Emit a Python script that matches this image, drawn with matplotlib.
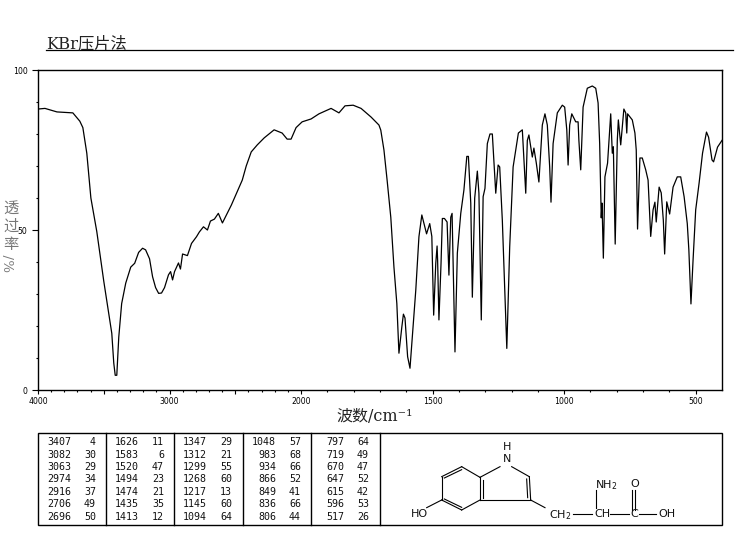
#importing the relevant modules
import matplotlib
matplotlib.use("Agg")
import matplotlib.pyplot as plt
import numpy as np

#spectrum
wavenumber = [4000, 3947, 3856, 3735, 3682, 3659, 3629, 3598, 3553, 3508, 3500, 3470, 3439, 3424, 3413, 3401,
              3386, 3364, 3333, 3295, 3265, 3235, 3205, 3182, 3152, 3129, 3106, 3083, 3061, 3038, 3008, 2992,
              2977, 2962, 2932, 2917, 2901, 2864, 2833, 2795, 2773, 2742, 2712, 2689, 2659, 2629, 2598, 2568,
              2530, 2485, 2447, 2417, 2379, 2333, 2280, 2205, 2144, 2106, 2076, 2038, 1996, 1962, 1932, 1886,
              1856, 1833, 1802, 1772, 1734, 1704, 1697, 1685, 1673, 1659, 1647, 1636, 1628, 1617, 1611, 1605,
              1595, 1586, 1577, 1564, 1552, 1541, 1533, 1523, 1511, 1503, 1496, 1488, 1483, 1481, 1476, 1468,
              1463, 1455, 1445, 1438, 1431, 1426, 1415, 1406, 1393, 1381, 1370, 1364, 1355, 1349, 1340, 1330,
              1324, 1315, 1308, 1301, 1292, 1282, 1273, 1260, 1251, 1245, 1235, 1218, 1207, 1194, 1174, 1159,
              1146, 1140, 1134, 1121, 1115, 1106, 1096, 1083, 1073, 1064, 1055, 1050, 1042, 1026, 1007, 998,
              990, 985, 979, 971, 956, 947, 944, 937, 928, 912, 893, 880, 871, 865, 859, 856,
              851, 845, 835, 823, 817, 813, 806, 798, 794, 785, 773, 766, 762, 759, 741, 731,
              726, 721, 712, 703, 690, 681, 671, 662, 655, 650, 639, 631, 623, 618, 610, 599,
              586, 570, 557, 544, 532, 526, 518, 510, 500, 487, 474, 459, 451, 438, 432, 417,
              404, 400]
transmittance = [87.8, 88, 86.9, 86.6, 84, 82, 74, 60, 49.5, 36.5, 34, 26, 17.7, 8.4, 4.6, 4.6,
                 16.5, 27, 33.4, 38.4, 39.6, 43, 44.3, 43.8, 41, 35.4, 32, 30.2, 30.3, 32, 36, 37,
                 34.4, 37, 39.7, 37.8, 42.5, 42, 45.8, 47.9, 49.4, 51, 50, 52.8, 53.4, 55.2, 52.2, 54.7,
                 57.8, 62, 65.6, 70, 74.4, 76.6, 78.8, 81.3, 80.3, 78.4, 78.4, 82, 83.8, 84.7, 86.3, 88,
                 86.6, 88.8, 89, 88, 85.3, 82.8, 81.2, 75, 65.6, 54, 38.4, 27, 11.5, 19.7, 23.7, 22.5,
                 10.4, 6.8, 16.6, 31.2, 47.9, 54.7, 52.1, 48.8, 52, 48, 23.4, 39.6, 45, 40.6, 21.9, 39.6,
                 53.6, 53.6, 52.5, 35.9, 54, 55.2, 11.9, 42.8, 55.2, 62.5, 73, 73, 58.4, 29, 60, 68.4,
                 61.5, 21.9, 60.4, 63, 77, 80, 80, 61.5, 70.3, 69.7, 53, 13, 44.7, 69.7, 80.3, 81.3,
                 61.5, 78, 79.7, 72.8, 75.6, 71, 65, 82.8, 86.3, 82.8, 69.7, 58.7, 77, 86.6, 89, 88.4,
                 81.3, 70.3, 82.8, 86.3, 83.8, 83.8, 78, 68.8, 88.4, 94.3, 95, 94.3, 89.7, 77, 53.8, 58.4,
                 41.2, 66.6, 70.9, 86.3, 74, 76, 45.6, 78, 84.4, 76.6, 87.8, 86.6, 80.3, 86.3, 84.4, 80.3,
                 75, 50.3, 72.5, 72.5, 68.8, 65.6, 48, 56.3, 58.7, 52.5, 63.4, 61.6, 53, 42.5, 58.8, 55,
                 63.4, 66.6, 66.6, 60.4, 52, 43.8, 26.9, 40.6, 56.3, 64.7, 74, 80.6, 79, 71.9, 71.3, 75.9,
                 77.5, 78]

#peak table, one list per column
peak_wn = [[3407, 3082, 3063, 2974, 2916, 2706, 2696],
           [1626, 1583, 1520, 1494, 1474, 1435, 1413],
           [1347, 1312, 1299, 1268, 1217, 1145, 1094],
           [1048, 983, 934, 866, 849, 836, 806],
           [797, 719, 670, 647, 615, 596, 517]]
peak_t = [[4, 30, 29, 34, 37, 49, 50],
          [11, 6, 47, 23, 21, 35, 12],
          [29, 21, 55, 60, 13, 60, 64],
          [57, 68, 66, 52, 41, 66, 44],
          [64, 49, 47, 52, 42, 53, 26]]

x_labels = [4000, 3000, 2000, 1500, 1000, 500]
y_labels = [0, 50, 100]

plt.rcParams['font.family'] = ['DejaVu Sans', 'Noto Sans CJK SC']

W, H = 737, 539
fig = plt.figure(figsize=(W / 100, H / 100), dpi=100)

#the wavenumber axis is compressed by half above 2000
def forward(v):
    v = np.asarray(v, dtype=float)
    return np.where(v > 2000, 2000 + (v - 2000) * 0.5, v)

def inverse(v):
    v = np.asarray(v, dtype=float)
    return np.where(v > 2000, 2000 + (v - 2000) * 2, v)

ax = fig.add_axes([38 / W, 1 - 390 / H, 684 / W, 320 / H])
ax.set_xscale('function', functions=(forward, inverse))
ax.plot(wavenumber, transmittance, color='black', lw=0.9)
ax.set_xlim(4000, 400)
ax.set_ylim(0, 100)

ax.set_xticks(x_labels + [3500, 2500])
ax.set_xticklabels([str(v) for v in x_labels] + ['', ''], fontsize=5.6)
ax.set_xticks(np.arange(500, 4000, 100), minor=True)
ax.set_yticks(y_labels)
ax.set_yticklabels([str(v) for v in y_labels], fontsize=5.6)
ax.set_yticks(np.arange(0, 101, 10), minor=True)
ax.tick_params(axis='x', which='major', length=2.9, width=0.8, pad=2)
ax.tick_params(axis='x', which='minor', length=1.4, width=0.8)
ax.tick_params(axis='y', which='major', length=4, width=0.8, pad=3.6)
ax.tick_params(axis='y', which='minor', length=1.7, width=0.8)
for s in ax.spines.values():
    s.set_linewidth(1.0)

#everything around the plot goes on an overlay in picture coordinates
ov = fig.add_axes([0, 0, 1, 1], facecolor='none')
ov.set_xlim(0, W)
ov.set_ylim(H, 0)
ov.axis('off')

cjk = ['DejaVu Serif', 'Noto Sans CJK SC']
ov.text(46, 48, 'KBr压片法', fontsize=11.7, family=cjk, color='#222222', va='baseline')
ov.plot([46, 733], [50, 50], color='black', lw=0.9)
ov.text(375, 416.5, '波数/cm⁻¹', fontsize=11.5, family=cjk, color='#222222', ha='center', va='center')

#y label is stacked, the gray comes from the scan
for ch, yy, rot, fs in [('透', 209, 0, 11), ('过', 227, 0, 11), ('率', 245, 0, 11), ('/', 257, 90, 9.5), ('%', 266, 90, 9.5)]:
    ov.text(11, yy, ch, fontsize=fs, family=cjk, color='#777777', ha='center', va='center', rotation=rot)

#peak table
ov.add_patch(plt.Rectangle((38, 433), 684, 92, fill=False, ec='black', lw=1.0))
col_edges = [38, 106, 174, 243, 311, 380]
for e in col_edges[1:]:
    ov.plot([e, e], [433, 525], color='black', lw=1.0)
for c in range(len(peak_wn)):
    for r in range(len(peak_wn[c])):
        yy = 442.3 + r * 12.4
        ov.text(col_edges[c] + 33, yy, str(peak_wn[c][r]), family='DejaVu Sans Mono', fontsize=7.2,
                ha='right', va='center', color='#111111')
        ov.text(col_edges[c] + 58, yy, str(peak_t[c][r]), family='DejaVu Sans Mono', fontsize=7.2,
                ha='right', va='center', color='#111111')

#structure drawing, points taken from the 3x crop of the box
def px(zx, zy):
    return 380 + zx / 3, 425 + zy / 3

bonds = [((245, 125), (300, 157)), ((300, 157), (300, 225)), ((300, 225), (245, 255)),
         ((245, 255), (185, 225)), ((185, 225), (185, 155)), ((185, 155), (245, 125)),
         ((193, 159), (245, 134)), ((193, 222), (245, 247)), ((308, 165), (308, 218)),
         ((300, 157), (360, 125)), ((395, 125), (448, 155)), ((448, 155), (452, 225)),
         ((440, 162), (443, 218)), ((452, 225), (300, 225)), ((185, 225), (140, 248)),
         ((452, 225), (495, 248)), ((580, 268), (635, 268)), ((648, 195), (648, 250)),
         ((690, 268), (748, 268)), ((756, 195), (756, 255)), ((765, 195), (765, 255)),
         ((778, 268), (828, 268))]
for a, b in bonds:
    xa, ya = px(*a)
    xb, yb = px(*b)
    ov.plot([xa, xb], [ya, yb], color='black', lw=0.8)

atoms = [('H', 380, 66), ('N', 380, 102), ('HO', 117, 268), ('CH$_2$', 540, 270), ('CH', 667, 268),
         ('NH$_2$', 678, 180), ('C', 763, 268), ('O', 765, 178), ('OH', 861, 268)]
for label, zx, zy in atoms:
    xa, ya = px(zx, zy)
    ov.text(xa, ya, label, fontsize=8, ha='center', va='center', color='#111111')

fig.savefig('out.png', dpi=100)
